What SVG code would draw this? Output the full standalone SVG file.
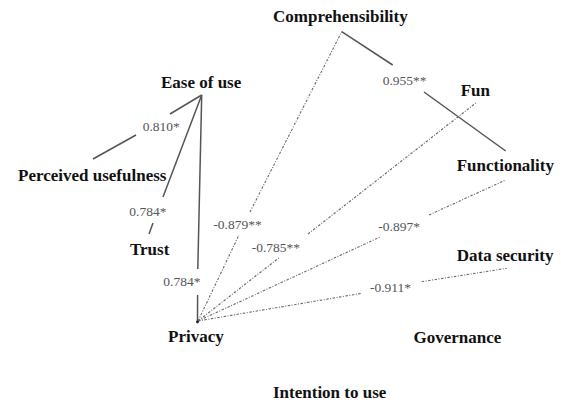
<svg xmlns="http://www.w3.org/2000/svg" width="561" height="403" viewBox="0 0 561 403">
  <style>
    .node { font-family: "Liberation Serif", "Times New Roman", serif; font-weight: bold; font-size: 17px; fill: #111; }
    .coef { font-family: "Liberation Serif", "Times New Roman", serif; font-size: 13.5px; fill: #555; }
    .solid { stroke: #555; stroke-width: 1.5; fill: none; }
    .dashdot { stroke: #6a6a6a; stroke-width: 1.1; fill: none; stroke-dasharray: 2.5 1.5 1 1.5; }
  </style>
  <rect width="561" height="403" fill="#fff"/>

  <g id="connectors">
    <!-- Ease of use links -->
    <path class="solid" d="M201.7 95 L170 114 M136 135 L93 159"/>
    <path class="solid" d="M201.7 95 L163 197 M153 223 L149 234"/>
    <path class="solid" d="M201.7 95 L197.8 269 M197.6 295 L197.5 322"/>
    <!-- Comprehensibility to Functionality -->
    <path class="solid" d="M341.7 31.7 L392.7 65 M424 92 L505.7 151"/>
    <!-- Privacy links -->
    <path class="dashdot" d="M198 321 L239 235 M250 212 L341.7 31.7"/>
    <path class="dashdot" d="M198 321 L280 257 M308 234 L476.7 102.3"/>
    <path class="dashdot" d="M198 321 L380.7 236.7 M429 215 L505.7 180"/>
    <path class="dashdot" d="M198 321 L361.7 293.3 M421.7 281.7 L506.7 268.3"/>
    <circle cx="197.5" cy="322" r="1.4" fill="#222"/>
  </g>

  <g id="comprehensibility"><text class="node" x="273" y="22">Comprehensibility</text></g>
  <g id="ease-of-use"><text class="node" x="161" y="88">Ease of use</text></g>
  <g id="perceived-usefulness"><text class="node" x="18" y="181">Perceived usefulness</text></g>
  <g id="trust"><text class="node" x="130" y="255">Trust</text></g>
  <g id="privacy"><text class="node" x="168" y="342">Privacy</text></g>
  <g id="fun"><text class="node" x="460.7" y="96">Fun</text></g>
  <g id="functionality"><text class="node" x="456.7" y="171">Functionality</text></g>
  <g id="data-security"><text class="node" x="456.7" y="261">Data security</text></g>
  <g id="governance"><text class="node" x="413.5" y="343">Governance</text></g>
  <g id="intention-to-use"><text class="node" x="273" y="398">Intention to use</text></g>

  <g id="coefficients">
    <text class="coef" x="142.7" y="131">0.810*</text>
    <text class="coef" x="129.3" y="216">0.784*</text>
    <text class="coef" x="163.3" y="286">0.784*</text>
    <text class="coef" x="213.3" y="229">-0.879**</text>
    <text class="coef" x="251.7" y="252">-0.785**</text>
    <text class="coef" x="378.3" y="231">-0.897*</text>
    <text class="coef" x="370" y="292">-0.911*</text>
    <text class="coef" x="382.7" y="85">0.955**</text>
  </g>
</svg>
